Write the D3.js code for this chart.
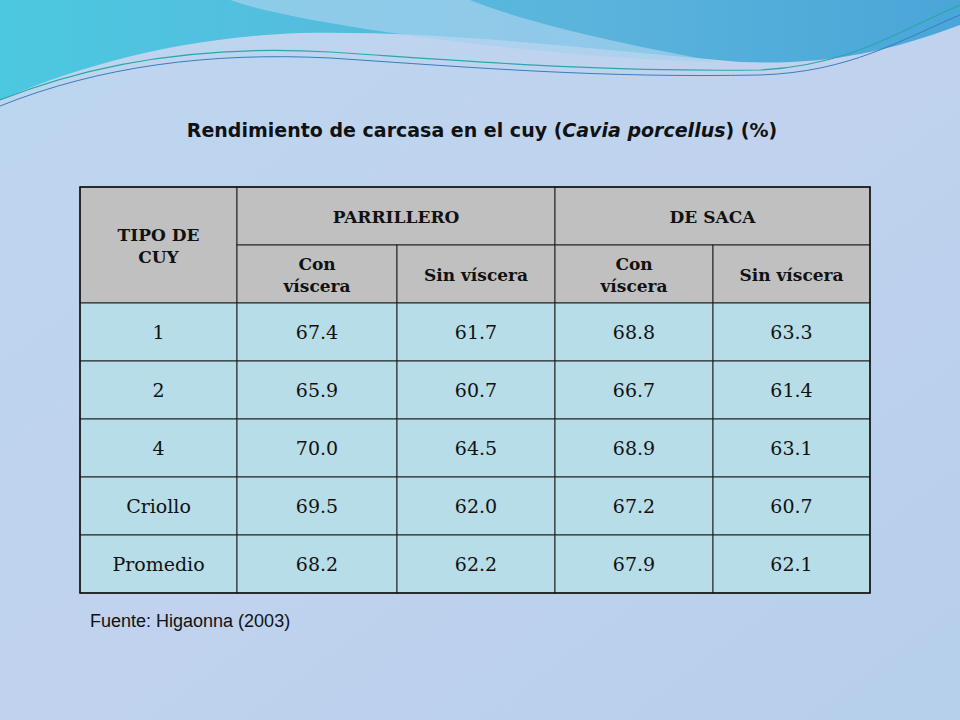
<!DOCTYPE html>
<html><head><meta charset="utf-8">
<script src="https://cdn.jsdelivr.net/npm/d3@7/dist/d3.min.js"></script>
<style>body{margin:0;}svg{display:block;}</style>
</head><body>
<script>
var groups = ["PARRILLERO", "DE SACA"];
var subHeaders = ["Con\nvíscera", "Sin víscera", "Con\nvíscera", "Sin víscera"];
var tipos = ["1", "2", "4", "Criollo", "Promedio"];
var parrConV = [67.4, 65.9, 70.0, 69.5, 68.2];
var parrSinV = [61.7, 60.7, 64.5, 62.0, 62.2];
var sacaConV = [68.8, 66.7, 68.9, 67.2, 67.9];
var sacaSinV = [63.3, 61.4, 63.1, 60.7, 62.1];

var W = 960, H = 720;
var svg = d3.select("body").append("svg").attr("width", W).attr("height", H);
var defs = svg.append("defs");
var bg = defs.append("linearGradient").attr("id", "bg").attr("x1", 0).attr("y1", 0).attr("x2", 1).attr("y2", 1);
bg.append("stop").attr("offset", "0%").attr("stop-color", "#bcd6ef");
bg.append("stop").attr("offset", "50%").attr("stop-color", "#c0d2ee");
bg.append("stop").attr("offset", "100%").attr("stop-color", "#b6cfeb");
svg.append("rect").attr("width", W).attr("height", H).attr("fill", "url(#bg)");

var wave = defs.append("linearGradient").attr("id", "wave").attr("x1", 0).attr("y1", 0).attr("x2", 1).attr("y2", 0);
wave.append("stop").attr("offset", "0%").attr("stop-color", "#4cc8e0");
wave.append("stop").attr("offset", "60%").attr("stop-color", "#5ab4dc");
wave.append("stop").attr("offset", "100%").attr("stop-color", "#4aa6d8");

// top decorative waves
svg.append("path").attr("fill", "url(#wave)")
  .attr("d", "M0,0 L960,0 L960,25 C880,55 820,65 740,62 C600,50 440,30 300,33 C170,38 70,70 0,100 Z");
svg.append("path").attr("fill", "#a6d2ee").attr("opacity", 0.7)
  .attr("d", "M230,0 C300,25 560,60 720,62 C600,40 520,20 470,0 Z");
svg.append("path").attr("fill", "none").attr("stroke", "#2aa8a8").attr("stroke-width", 1.2)
  .attr("d", "M0,100 C100,60 210,45 330,52 C480,62 600,72 760,70 C850,66 900,30 960,5");
svg.append("path").attr("fill", "none").attr("stroke", "#3a7cc0").attr("stroke-width", 1)
  .attr("d", "M0,106 C100,66 210,52 330,58 C480,68 600,78 760,75 C850,72 900,40 960,15");

svg.append("text").attr("x", 482).attr("y", 137).attr("text-anchor", "middle")
  .attr("font-family", "DejaVu Sans").attr("font-weight", "bold").attr("font-size", 19).attr("fill", "#111")
  .call(function (t) {
    t.append("tspan").text("Rendimiento de carcasa en el cuy (");
    t.append("tspan").attr("font-style", "italic").text("Cavia porcellus");
    t.append("tspan").text(") (%)");
  });

var colEdges = [80, 237, 397, 555, 713, 870];
var x = function (i) { return colEdges[i]; };
var y = d3.scaleLinear().domain([0, 7]).range([187, 593]);
var serif = "DejaVu Serif";
var gray = "#c0c0c0", blue = "#b7dde8";

function cell(c0, c1, r0, r1, fill, lines, bold) {
  svg.append("rect").attr("x", x(c0)).attr("y", y(r0)).attr("width", x(c1) - x(c0)).attr("height", y(r1) - y(r0))
    .attr("fill", fill).attr("stroke", "#222").attr("stroke-width", 1);
  var cx = (x(c0) + x(c1)) / 2, cy = (y(r0) + y(r1)) / 2, lh = 22;
  var t = svg.append("text").attr("text-anchor", "middle").attr("font-family", serif)
    .attr("font-size", bold ? 17 : 19).attr("font-weight", bold ? "bold" : "normal").attr("fill", "#111");
  lines.forEach(function (l, k) {
    t.append("tspan").attr("x", cx).attr("y", cy + (k - (lines.length - 1) / 2) * lh + 7).text(l);
  });
}

cell(0, 1, 0, 2, gray, ["TIPO DE", "CUY"], true);
groups.forEach(function (g, i) { cell(1 + 2 * i, 3 + 2 * i, 0, 1, gray, [g], true); });
subHeaders.forEach(function (s, i) { cell(1 + i, 2 + i, 1, 2, gray, s.split("\n"), true); });
var cols = [parrConV, parrSinV, sacaConV, sacaSinV];
tipos.forEach(function (tp, r) {
  cell(0, 1, 2 + r, 3 + r, blue, [tp], false);
  cols.forEach(function (arr, c) { cell(1 + c, 2 + c, 2 + r, 3 + r, blue, [arr[r].toFixed(1)], false); });
});
svg.append("rect").attr("x", x(0)).attr("y", y(0)).attr("width", x(5) - x(0)).attr("height", y(7) - y(0))
  .attr("fill", "none").attr("stroke", "#111").attr("stroke-width", 1.5);

svg.append("text").attr("x", 90).attr("y", 627).attr("font-family", "Liberation Sans").attr("font-size", 18)
  .attr("fill", "#111").text("Fuente: Higaonna (2003)");
</script>
</body></html>
